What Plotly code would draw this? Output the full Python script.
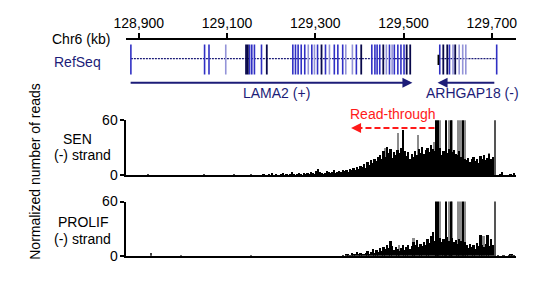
import plotly.graph_objects as go

W, H = 540, 287

# ---------------- data ----------------
# genomic axis (kb)
chr_ticks_kb = [128900, 129100, 129300, 129500, 129700]
x_range_kb = [128872, 129755]

# RefSeq gene models (kb)
lama2_span_kb = [128882, 129515]
arhgap18_span_kb = [129579, 129711]
exons_dark_kb = [129143, 129147, 129190, 129314, 129404, 129454, 129507, 129515,
                 129590, 129599, 129617]
exons_mid_kb = [128882, 129049, 129059, 129151, 129156, 129162, 129178, 129249,
                129255, 129261, 129268, 129276, 129292, 129305, 129323, 129343, 129351,
                129362, 129393, 129428, 129435, 129440, 129446, 129468, 129479, 129487,
                129494, 129501, 129582, 129604, 129711]
exons_light_kb = [129097, 129284, 129298, 129332, 129369, 129384, 129461, 129474,
                  129612, 129626, 129634, 129641]
exons_short_kb = [129579]
lama2_arrow_kb = [128878, 129520]      # tail, head
arhgap18_arrow_kb = [129709, 129577]   # tail, head
readthrough_arrow_kb = [129570, 129400, 129381]  # tail, dash end, head tip

# reads, binned (kb)
bin_kb = 4
sen_start_kb = 129180
sen_reads = [0, 1, 0, 0, 1, 0, 2, 0, 1, 0, 0, 1, 2, 0, 1, 0, 1, 3, 1, 0, 1, 2, 1, 0, 2,
             1, 2, 1, 3, 2, 1, 4, 7, 3, 2, 1, 2, 4, 3, 2, 3, 5, 2, 3, 4, 3, 5,
             4, 6, 3, 7, 5, 8, 6, 9, 7, 10,
             9, 12, 8, 14, 11, 16, 13, 18, 15, 20,
             22, 17, 26, 20, 31, 24, 28, 19, 25, 22, 27,
             24, 30, 49, 26, 21, 25, 18, 23, 20, 26, 22, 28, 24, 31, 23, 27, 30, 25, 33, 28, 26,
             27, 24, 30, 22, 26, 20, 24, 28, 21, 25, 27, 23, 22, 26, 20, 24, 18,
             16, 19, 14, 17, 20, 15, 18, 13, 21, 17, 22, 16, 19, 23, 18, 20, 24,
             0, 0, 1, 3, 0, 0, 0, 0, 1, 0, 2]
sen_sparse_kb = [128922, 129050, 129118, 129156]
sen_sparse_val = [1, 1, 1, 1]
sen_gray_kb = [129460, 129489, 129535, 129570, 129696]
sen_gray_val = [30, 46, 44, 36, 24]

prolif_start_kb = 129364
prolif_reads = [1, 0, 2, 3, 1, 4, 2, 3, 5, 2, 4, 3, 2,
                4, 6, 3, 5, 8, 4, 7, 5, 9, 6, 10,
                8, 13, 9, 17, 11, 7, 10, 8,
                6, 9, 12, 7, 10, 13, 8, 11, 16,
                12, 18, 10, 14, 11, 16, 13, 19, 15, 22, 27, 17,
                18, 15, 20, 16, 19, 14, 21, 17, 15, 20, 16, 18, 14, 19, 17, 13, 16,
                12, 9, 14, 10, 13, 8, 15, 11, 24, 12, 10, 14, 24, 11, 19, 13, 12,
                0, 1, 0, 0, 1, 0, 0, 1, 2, 3, 1]
prolif_sparse_kb = [128929, 128997, 129156]
prolif_sparse_val = [4, 1, 1]
prolif_gray_kb = [129491, 129524, 129683]
prolif_gray_val = [12, 20, 22]

# saturated peaks (above 60) common to both tracks
peaks_black_kb = [129575, 129579, 129597, 129608, 129637]
peaks_gray_kb = [129584, 129604, 129612, 129626, 129632, 129641]
peaks_dark_kb = [129708]
peak_val = 100

y_max = 60

# ---------------- helpers ----------------
def py(p):
    return 1 - p / H

def px(p):
    return p / W

NAVY = "#1c1c78"
FONT = "Liberation Sans, Arial, sans-serif"

fig = go.Figure()

# gene track coordinates: y = 97 - pixel row
def vlines(xs, y0, y1):
    X, Y = [], []
    for v in xs:
        X += [v, v, None]
        Y += [y0, y1, None]
    return X, Y

for span in (lama2_span_kb, arhgap18_span_kb):
    fig.add_trace(go.Scatter(x=span, y=[44, 44], mode="lines", xaxis="x", yaxis="y",
                             line=dict(color=NAVY, width=1.2, dash="2px,1px"),
                             hoverinfo="skip", showlegend=False))

for xs, col, w, y0, y1 in [
    (exons_light_kb, "#9494d8", 1.6, 27, 59),
    (exons_mid_kb, "#3030c4", 1.6, 27, 59),
    (exons_dark_kb, "#08084a", 1.8, 27, 59),
    (exons_short_kb, "#000000", 1.8, 37, 48),
]:
    X, Y = vlines(xs, y0, y1)
    fig.add_trace(go.Scatter(x=X, y=Y, mode="lines", xaxis="x", yaxis="y",
                             line=dict(color=col, width=w), hoverinfo="skip",
                             showlegend=False))

# read tracks
def track(start, reads, sparse_kb, sparse_val, gray_kb, gray_val, xa, ya):
    xs = [start + bin_kb * i for i in range(len(reads))]
    common = dict(xaxis=xa, yaxis=ya, showlegend=False, hoverinfo="skip")
    fig.add_trace(go.Bar(x=peaks_gray_kb, y=[peak_val] * len(peaks_gray_kb), width=bin_kb,
                         marker=dict(color="#8c8c8c", line=dict(width=0)), **common))
    fig.add_trace(go.Bar(x=gray_kb, y=gray_val, width=bin_kb,
                         marker=dict(color="#8c8c8c", line=dict(width=0)), **common))
    fig.add_trace(go.Bar(x=xs, y=reads, width=bin_kb,
                         marker=dict(color="#000000", line=dict(width=0)), **common))
    fig.add_trace(go.Bar(x=sparse_kb, y=sparse_val, width=bin_kb,
                         marker=dict(color="#444444", line=dict(width=0)), **common))
    fig.add_trace(go.Bar(x=peaks_black_kb, y=[peak_val] * len(peaks_black_kb), width=bin_kb * 0.8,
                         marker=dict(color="#000000", line=dict(width=0)), **common))
    fig.add_trace(go.Bar(x=peaks_dark_kb, y=[peak_val] * len(peaks_dark_kb), width=bin_kb * 0.6,
                         marker=dict(color="#555555", line=dict(width=0)), **common))

track(sen_start_kb, sen_reads, sen_sparse_kb, sen_sparse_val, sen_gray_kb, sen_gray_val, "x2", "y2")
track(prolif_start_kb, prolif_reads, prolif_sparse_kb, prolif_sparse_val, prolif_gray_kb, prolif_gray_val, "x3", "y3")

xdom = [px(116.5), px(516.5)]
sig_y = dict(range=[0, y_max], showline=True, linecolor="black", linewidth=2,
             ticks="outside", ticklen=4, tickwidth=1.5, tickcolor="black",
             tickvals=[0, y_max], tickfont=dict(size=14, color="black", family=FONT),
             showgrid=False, zeroline=False, fixedrange=True)
sig_x = dict(domain=xdom, range=x_range_kb, showline=True, linecolor="black", linewidth=2,
             showticklabels=False, ticks="", showgrid=False, zeroline=False, fixedrange=True)

fig.update_layout(
    width=W, height=H, margin=dict(l=0, r=0, t=0, b=0),
    paper_bgcolor="white", plot_bgcolor="white",
    font=dict(family=FONT, size=14, color="black"),
    barmode="overlay", bargap=0, showlegend=False,
    xaxis=dict(domain=xdom, range=x_range_kb, anchor="y", side="top",
               showline=True, linecolor="black", linewidth=1.5,
               ticks="outside", ticklen=5, tickwidth=1.5, tickcolor="black",
               tickvals=chr_ticks_kb, tickformat=",d",
               tickfont=dict(size=14, color="black", family=FONT),
               showgrid=False, zeroline=False, fixedrange=True),
    yaxis=dict(domain=[py(97), py(33.8)], range=[0, 64], visible=False, fixedrange=True),
    xaxis2=dict(anchor="y2", **sig_x),
    yaxis2=dict(domain=[py(177.3), py(119)], anchor="x2", **sig_y),
    xaxis3=dict(anchor="y3", **sig_x),
    yaxis3=dict(domain=[py(262.5), py(205)], anchor="x3", **sig_y),
)

ann = []
def txt(t, x, y, color="black", xanchor="center", angle=0):
    ann.append(dict(text=t, x=px(x), y=py(y), xref="paper", yref="paper",
                    xanchor=xanchor, yanchor="middle", showarrow=False, textangle=angle,
                    borderpad=0, font=dict(size=14, color=color, family=FONT)))

txt("Chr6 (kb)", 101, 33, xanchor="right")
txt("RefSeq", 66.5, 57, color=NAVY)
txt("LAMA2 (+)", 270, 90, color=NAVY)
txt("ARHGAP18 (-)", 471.5, 90, color=NAVY)
txt("Read-through", 390.5, 112, color="#ff1a1a")
txt("SEN", 66, 139)
txt("(-) strand", 71.5, 156)
txt("PROLIF", 72.5, 227)
txt("(-) strand", 71.7, 245)
txt("Normalized number of reads", 23, 173, angle=-90)

# gene arrows
for tail, head in (lama2_arrow_kb, arhgap18_arrow_kb):
    ann.append(dict(text="", x=head, y=18, xref="x", yref="y", ax=tail, ay=18,
                    axref="x", ayref="y", showarrow=True, arrowhead=2, arrowsize=1,
                    arrowwidth=2, arrowcolor=NAVY, standoff=0, startstandoff=0))

# read-through arrow head
ann.append(dict(text="", x=readthrough_arrow_kb[2], y=py(127), xref="x2", yref="paper",
                ax=12, ay=0, axref="pixel", ayref="pixel", showarrow=True, arrowhead=2,
                arrowsize=1, arrowwidth=2, arrowcolor="#ff1a1a", standoff=0))
fig.update_layout(annotations=ann)

fig.add_shape(type="line", xref="x2", yref="paper",
              x0=readthrough_arrow_kb[0], x1=readthrough_arrow_kb[1], y0=py(127), y1=py(127),
              line=dict(color="#ff1a1a", width=2, dash="6px,3px"))

fig.write_html("out.html")
